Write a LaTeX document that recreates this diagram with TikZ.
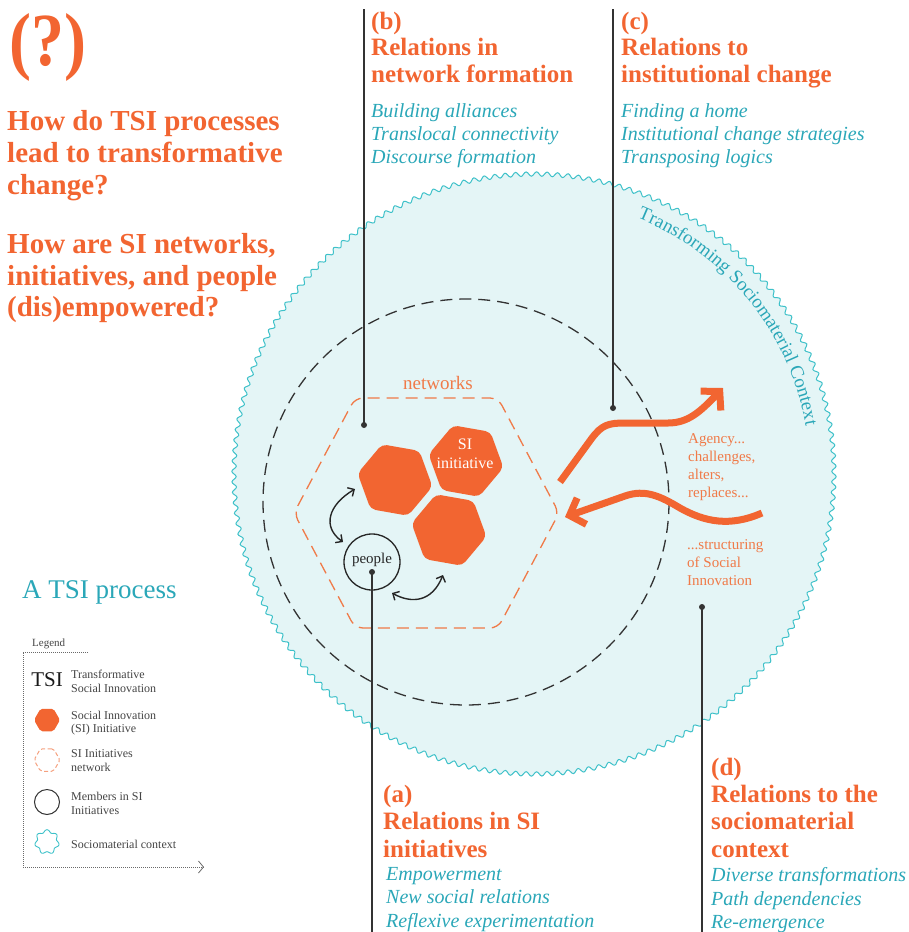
\documentclass[tikz,border=0pt]{standalone}
\usepackage{fontspec}
\setmainfont{Liberation Serif}
\usetikzlibrary{arrows.meta,decorations.pathmorphing,decorations.text,shapes.geometric,calc}
\definecolor{orng}{HTML}{F26531}
\definecolor{orngl}{HTML}{F07A48}
\definecolor{orngd}{HTML}{F5A07E}
\definecolor{tealt}{HTML}{2AA7B8}
\definecolor{wavec}{HTML}{3EC1C9}
\definecolor{ctxfill}{HTML}{E4F5F6}
\definecolor{lineg}{HTML}{333333}
\definecolor{legg}{HTML}{444444}
\tikzset{
  qline/.style={anchor=base west, inner sep=0pt, text=orng, font=\fontsize{29}{31}\selectfont\bfseries},
  hline/.style={anchor=base west, inner sep=0pt, text=orng, font=\fontsize{25}{28}\selectfont\bfseries},
  iline/.style={anchor=base west, inner sep=0pt, text=tealt, font=\fontsize{20}{23}\selectfont\itshape},
  agline/.style={anchor=base west, inner sep=0pt, text=orngl, font=\fontsize{15}{18}\selectfont},
  legtxt/.style={anchor=base west, inner sep=0pt, text=legg, font=\fontsize{12}{14}\selectfont},
  leaderline/.style={draw=lineg, line width=1.3pt},
  leaderdot/.style={circle, fill=lineg, inner sep=0pt, minimum size=6pt},
  sihex/.style={regular polygon, regular polygon sides=6, shape border rotate=-10, minimum size=76pt, inner sep=0pt, fill=orng, rounded corners=5pt},
  leghex/.style={regular polygon, regular polygon sides=6, minimum size=26pt, inner sep=0pt, rounded corners=2pt},
  bigarrow/.style={draw=orng, line width=7pt, -{Straight Barb[length=13pt, width=28pt]}},
  smallarrow/.style={draw=black!85, line width=1.4pt, {Straight Barb[length=5pt,width=10pt]}-{Straight Barb[length=5pt,width=10pt]}},
  legline/.style={draw=legg!80, line width=0.8pt, dash pattern=on 0.8pt off 1.2pt}
}
\begin{document}
\begin{tikzpicture}[x=1pt, y=-1pt]
\useasboundingbox (0,0) rectangle (908,932);

% sociomaterial context
\coordinate (C) at (534,474);
\draw[draw=wavec, fill=ctxfill, line width=1pt, shift={(534,474)}]
  plot[domain=0:180, samples=1441, smooth] ({2*\x}:{300+2.2*sin(360*mod(\x,1))}) -- cycle;
\path[decorate, decoration={text along path, text align=center,
      text={|\fontsize{19}{19}\selectfont\color{tealt}|Transforming Sociomaterial Context}}]
      ($(C)+(-71:276)$) arc[start angle=-71, end angle=-7, radius=276];

% dashed process circle
\draw[lineg, line width=1.3pt, dash pattern=on 12pt off 7pt] (466,502) circle[radius=203];

% network hexagon
\draw[orngl, line width=1.3pt, dash pattern=on 12pt off 7pt, rounded corners=8pt]
  (294,513) -- (355,398) -- (498,398) -- (559,513) -- (498,628) -- (355,628) -- cycle;
\node[anchor=base, inner sep=0pt, text=orngl, font=\fontsize{19}{19}\selectfont] (netlbl) at (438,389) {networks};

% SI initiatives
\node[sihex] (h1) at (395,480) {};
\node[sihex] (h2) at (466,461) {};
\node[sihex] (h3) at (449,530) {};
\node[anchor=base, inner sep=0pt, text=white, font=\fontsize{16}{16}\selectfont] (silbl1) at (465,449) {SI};
\node[anchor=base, inner sep=0pt, text=white, font=\fontsize{16}{16}\selectfont] (silbl2) at (465,468) {initiative};

% people
\node[circle, draw=black!85, line width=1.3pt, minimum size=56pt, inner sep=0pt] (people) at (372,562) {};
\node[anchor=base, inner sep=0pt, text=black!85, font=\fontsize{15}{15}\selectfont] (peoplelbl) at (372,563) {people};

% small double arrows
\coordinate (a1s) at (355,489);
\coordinate (a1e) at (343,542);
\coordinate (a2s) at (392,593);
\coordinate (a2e) at (443,575);
\draw[smallarrow] (a1s) .. controls (328,505) and (322,527) .. (a1e);
\draw[smallarrow] (a2s) .. controls (412,604) and (432,602) .. (a2e);

% agency / structuring arrows
\coordinate (ag1s) at (560,482);
\coordinate (ag1e) at (723,388);
\coordinate (ag2s) at (762,513);
\coordinate (ag2e) at (565,517);
\draw[bigarrow] (ag1s) -- (592,438) .. controls (602,425) and (608,423) .. (625,423)
   -- (668,423) .. controls (688,423) and (700,412) .. (ag1e);
\draw[bigarrow] (ag2s) .. controls (730,527) and (705,522) .. (680,508)
   .. controls (660,496) and (645,489) .. (625,496) -- (ag2e);

\node[agline] (ag1) at (688,443) {Agency...};
\node[agline] (ag2) at (688,461) {challenges,};
\node[agline] (ag3) at (688,479) {alters,};
\node[agline] (ag4) at (688,497) {replaces...};
\node[agline] (st1) at (687,549) {...structuring};
\node[agline] (st2) at (687,567) {of Social};
\node[agline] (st3) at (687,585) {Innovation};

% leader lines
\coordinate (btop) at (364,9);
\coordinate (ctop) at (613,9);
\coordinate (abot) at (372,932);
\coordinate (dbot) at (702,932);
\node[leaderdot] (bdot) at (364,425) {};
\node[leaderdot] (cdot) at (613,408) {};
\node[leaderdot] (adot) at (372,572) {};
\node[leaderdot] (ddot) at (702,607) {};
\draw[leaderline] (btop) -- (bdot.center);
\draw[leaderline] (ctop) -- (cdot.center);
\draw[leaderline] (adot.center) -- (abot);
\draw[leaderline] (ddot.center) -- (dbot);

% questions
\node[anchor=base west, inner sep=0pt, text=orng, font=\fontsize{75}{75}\selectfont\bfseries] (qmark) at (9,65) {\scalebox{0.88}[1]{(?)}};
\node[qline] (q1) at (7,130) {How do TSI processes};
\node[qline] (q2) at (7,162) {lead to transformative};
\node[qline] (q3) at (7,194) {change?};
\node[qline] (q4) at (7,253) {How are SI networks,};
\node[qline] (q5) at (7,285) {initiatives, and people};
\node[qline] (q6) at (7,316) {(dis)empowered?};

% (b)
\node[hline] (b0) at (371,29) {(b)};
\node[hline] (b1) at (371,55) {Relations in};
\node[hline] (b2) at (371,82) {network formation};
\node[iline] (b3) at (371,117) {Building alliances};
\node[iline] (b4) at (371,140) {Translocal connectivity};
\node[iline] (b5) at (371,163) {Discourse formation};

% (c)
\node[hline] (c0) at (621,29) {(c)};
\node[hline] (c1) at (621,55) {Relations to};
\node[hline] (c2) at (621,82) {institutional change};
\node[iline] (c3) at (621,117) {Finding a home};
\node[iline] (c4) at (621,140) {Institutional change strategies};
\node[iline] (c5) at (621,163) {Transposing logics};

% (a)
\node[hline] (a0) at (383,802) {(a)};
\node[hline] (a1) at (383,829) {Relations in SI};
\node[hline] (a2) at (383,857) {initiatives};
\node[iline] (a3) at (386,880) {Empowerment};
\node[iline] (a4) at (386,903) {New social relations};
\node[iline] (a5) at (386,927) {Reflexive experimentation};

% (d)
\node[hline] (d0) at (711,775) {(d)};
\node[hline] (d1) at (711,802) {Relations to the};
\node[hline] (d2) at (711,829) {sociomaterial};
\node[hline] (d3) at (711,857) {context};
\node[iline] (d4) at (711,881) {Diverse transformations};
\node[iline] (d5) at (711,905) {Path dependencies};
\node[iline] (d6) at (711,928) {Re-emergence};

% A TSI process
\node[anchor=base west, inner sep=0pt, text=tealt, font=\fontsize{27}{27}\selectfont] (tsiproc) at (22,598) {A TSI process};

% legend
\node[anchor=base west, inner sep=0pt, text=legg, font=\fontsize{11}{11}\selectfont] (legtitle) at (32,646) {Legend};
\coordinate (lgA) at (88,652);
\coordinate (lgB) at (23,652);
\coordinate (lgC) at (23,867);
\coordinate (lgD) at (204,867);
\draw[legline] (lgA) -- (lgB) -- (lgC);
\draw[legline, -{Straight Barb[length=5pt,width=12pt]}] (lgC) -- (lgD);

\node[anchor=base, inner sep=0pt, text=black!90, font=\fontsize{21}{21}\selectfont] (legtsi) at (47,686) {TSI};
\node[legtxt] (lt1) at (71,678) {Transformative};
\node[legtxt] (lt2) at (71,692) {Social Innovation};

\node[leghex, fill=orng] (leghexa) at (47,720) {};
\node[legtxt] (lt3) at (71,719) {Social Innovation};
\node[legtxt] (lt4) at (71,732) {(SI) Initiative};

\node[leghex, draw=orngd, line width=1pt, dash pattern=on 4pt off 2.5pt] (leghexb) at (47,760) {};
\node[legtxt] (lt5) at (71,757) {SI Initiatives};
\node[legtxt] (lt6) at (71,771) {network};

\node[circle, draw=black!80, line width=1pt, minimum size=25pt, inner sep=0pt] (legcirc) at (47,802) {};
\node[legtxt] (lt7) at (71,800) {Members in SI};
\node[legtxt] (lt8) at (71,814) {Initiatives};

\coordinate (legblob) at (47,842);
\draw[wavec, line width=0.9pt, shift={(47,842)}]
  plot[domain=0:360, samples=73, smooth] (\x:{11+1.3*sin(7*\x)}) -- cycle;
\node[legtxt] (lt9) at (71,848) {Sociomaterial context};

\end{tikzpicture}
\end{document}
